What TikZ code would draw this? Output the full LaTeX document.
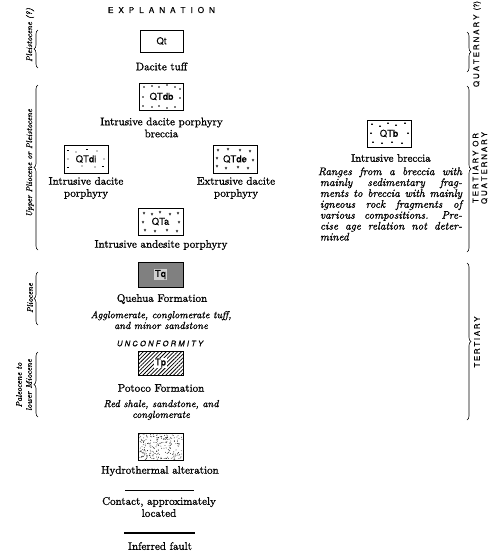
\documentclass[tikz,border=0pt]{standalone}
\usepackage{fontspec}
\setmainfont{lmroman10-regular.otf}[ItalicFont=lmroman10-italic.otf,BoldFont=lmroman10-bold.otf,RawFeature={embolden=1.1}]
\newfontfamily\hel{TeX Gyre Heros}[RawFeature={embolden=0.3}]
\usetikzlibrary{decorations.pathreplacing,patterns.meta}
\newcommand\spreadtxt[2]{\makebox[#1][s]{#2}}
\newcommand\sk{\ \hfill}
\begin{document}
\begin{tikzpicture}[x=1pt,y=-1pt,
  box/.style={draw,line width=0.8pt,minimum width=44pt,minimum height=26pt,inner sep=0pt,font=\hel\fontsize{9.5}{10}\selectfont},
  lab/.style={font=\fontsize{11}{12}\selectfont,align=center,inner sep=0pt},
  ital/.style={font=\itshape\fontsize{10.2}{10.8}\selectfont,align=center,inner sep=0pt},
  side/.style={font=\itshape\fontsize{8.3}{10}\selectfont,align=center,inner sep=0pt,rotate=90},
  sans/.style={font=\hel\fontsize{8.2}{9}\selectfont,inner sep=0pt},
  lbrace/.style={decorate,decoration={brace,amplitude=4pt},line width=0.6pt},
  dotm/.style={fill=black},
  vm/.style={line width=0.5pt},
]
\useasboundingbox (0,0) rectangle (500,560);

% title
\node[sans] (title) at (161.5,10) {\spreadtxt{107pt}{E\hfill X\hfill P\hfill L\hfill A\hfill N\hfill A\hfill T\hfill I\hfill O\hfill N}};

% Qt
\node[box,minimum width=43pt,minimum height=22pt] (qt) at (161.5,41) {Qt};
\node[lab] (qtt) at (161.5,66.5) {Dacite tuff};

% QTdb
\node[box,minimum height=27pt] (qtdb) at (161.5,96.5) {QTdb};
\foreach \p in {(144,87),(152,86),(159,87),(167,85),(175,87),(180,89),(143,97),(180,98),(143,106),(152,107),(159,106),(167,108),(175,107)}
  \fill[dotm] \p circle (0.8);
\node[lab] (qtdbt) at (161.5,127.5) {Intrusive dacite porphyry\\breccia};

% QTdi
\node[box,minimum height=28pt] (qtdi) at (86,159) {QTdi};
\foreach \p in {(76,152),(97,151),(68,159),(104,159),(82,166),(95,167)}
  \fill[dotm] \p circle (0.7);
\foreach \p in {(68,150),(87,149),(68,167),(103,166)}
  \draw[vm] \p ++(-1.2,0) -- ++(2.4,0);
\node[lab] (qtdit) at (86,188) {Intrusive dacite\\porphyry};

% QTde
\node[box,minimum height=28pt] (qtde) at (235,159) {QTde};
\foreach \p in {(218,150),(228,149),(240,150),(250,151),(217,158),(217,166),(226,168),(238,167),(248,168),(253,160)}
  \draw[vm] \p ++(-1,-1) -- ++(1,2) -- ++(1,-2);
\node[lab] (qtdet) at (236,188) {Extrusive dacite\\porphyry};

% QTa
\node[box,minimum width=45pt,minimum height=27pt] (qta) at (160.5,221.5) {QTa};
\foreach \p in {(144,213),(152,214),(160,212),(170,214),(178,213),(143,222),(179,222),(145,230),(155,231),(167,230),(177,231)}
  \draw[vm] \p ++(-1,-1) -- ++(1,2) -- ++(1,-2);
\node[lab] (qtat) at (161,245) {Intrusive andesite porphyry};

% Tq
\node[box,minimum width=45pt,minimum height=25pt,fill=black!50] (tq) at (160.5,274.5) {};
\node[font=\hel\fontsize{9.5}{10}\selectfont,fill=black!18,inner sep=1pt] (tql) at (tq) {Tq};
\node[lab] (tqt) at (162,299) {Quehua Formation};
\node[ital] (tqd) at (161,320) {Agglomerate, conglomerate tuff,\\and minor sandstone};

% unconformity
\node[font=\hel\itshape\fontsize{7.6}{9}\selectfont,inner sep=0pt] (unc) at (160,343.5) {\spreadtxt{86pt}{U\hfill N\hfill C\hfill O\hfill N\hfill F\hfill O\hfill R\hfill M\hfill I\hfill T\hfill Y}};

% Tp
\node[box,minimum width=45pt,minimum height=24pt,pattern={Lines[angle=45,distance=2.7pt,line width=0.75pt]}] (tp) at (160.5,363) {};
\node[font=\hel\fontsize{9.5}{10}\selectfont,fill=white,inner sep=0.8pt] (tpl) at (tp) {Tp};
\node[lab] (tpt) at (161,388) {Potoco Formation};
\node[ital] (tpd) at (161,410) {Red shale, sandstone, and\\conglomerate};

% hydrothermal
\node[box,minimum width=45pt,minimum height=27pt] (hyd) at (160.5,446.5) {};
\begin{scope}
\clip (hyd.south west) rectangle (hyd.north east);
\pgfmathsetseed{7}
\foreach \i in {1,...,230}{
  \pgfmathsetmacro\xx{138.5+44*rnd}
  \pgfmathsetmacro\yy{433.5+26*rnd}
  \fill (\xx,\yy) circle (0.42);
}
\end{scope}
\node[lab] (hydt) at (160,471) {Hydrothermal alteration};

% contact
\coordinate (c1) at (125,490);
\coordinate (c2) at (194,490);
\draw[line width=0.7pt] (c1) -- (c2);
\node[lab] (ct) at (159,507) {Contact, approximately\\located};

% fault
\coordinate (f1) at (124,533);
\coordinate (f2) at (195,533);
\draw[line width=1.4pt] (f1) -- (f2);
\node[lab] (ft) at (160,546) {Inferred fault};

% QTb
\node[box,minimum height=27pt] (qtb) at (389,133.5) {QTb};
\foreach \p in {(372,124),(380,126),(388,123),(396,125),(405,123),(371,133),(408,133),(373,142),(382,143),(392,142),(402,143)}
  \fill \p ++(-1,0.8) -- ++(2,0) -- ++(-1,-1.8) -- cycle;
\node[lab] (qtbt) at (391,158) {Intrusive breccia};
\node[font=\itshape\fontsize{11}{10.9}\selectfont,text width=144pt,align=left,inner sep=0pt] (qtbd) at (390,204) {%
\spreadtxt{144pt}{Ranges\sk from\sk a\sk breccia\sk with}\\
\hspace*{2pt}\spreadtxt{142pt}{mainly\sk sedimentary\sk frag-}\\
\hspace*{2pt}\spreadtxt{142pt}{ments\sk to\sk breccia\sk with\sk mainly}\\
\hspace*{2pt}\spreadtxt{142pt}{igneous\sk rock\sk fragments\sk of}\\
\hspace*{2pt}\spreadtxt{142pt}{various\sk compositions.\ \sk Pre-}\\
\hspace*{2pt}\spreadtxt{142pt}{cise\sk age\sk relation\sk not\sk deter-}\\
\hspace*{2pt}mined};

% left braces and labels
\draw[lbrace] (38,68) -- (38,30);
\node[side] (pl) at (30,35) {Pleistocene (?)};
\draw[lbrace] (38,250) -- (38,85);
\node[side] (upl) at (30,163) {Upper Pliocene or Pleistocene};
\draw[lbrace] (38,325) -- (38,272);
\node[side] (pli) at (30,298) {Pliocene};
\draw[lbrace] (38,417) -- (38,352);
\node[side] (pal) at (24,385) {Paleocene to\\lower Miocene};

% right braces and labels
\draw[lbrace] (467,32) -- (467,72);
\node[sans,rotate=90,font=\hel\fontsize{7.8}{9}\selectfont] (qq) at (477,44) {\spreadtxt{86pt}{Q\hfill U\hfill A\hfill T\hfill E\hfill R\hfill N\hfill A\hfill R\hfill Y\hfill\hfill(?)}};
\draw[lbrace] (467,86) -- (467,252);
\node[rotate=90,font=\hel\fontsize{7.8}{8.6}\selectfont,align=center,inner sep=0pt] (tq2) at (480,168) {\spreadtxt{70pt}{T\hfill E\hfill R\hfill T\hfill I\hfill A\hfill R\hfill Y\hfill\hfill O\hfill R}\\\spreadtxt{72pt}{Q\hfill U\hfill A\hfill T\hfill E\hfill R\hfill N\hfill A\hfill R\hfill Y}};
\draw[lbrace] (467,263) -- (467,420);
\node[rotate=90,font=\hel\fontsize{7.8}{9}\selectfont,inner sep=0pt] (ter) at (477,342) {\spreadtxt{51pt}{T\hfill E\hfill R\hfill T\hfill I\hfill A\hfill R\hfill Y}};
\end{tikzpicture}
\end{document}
